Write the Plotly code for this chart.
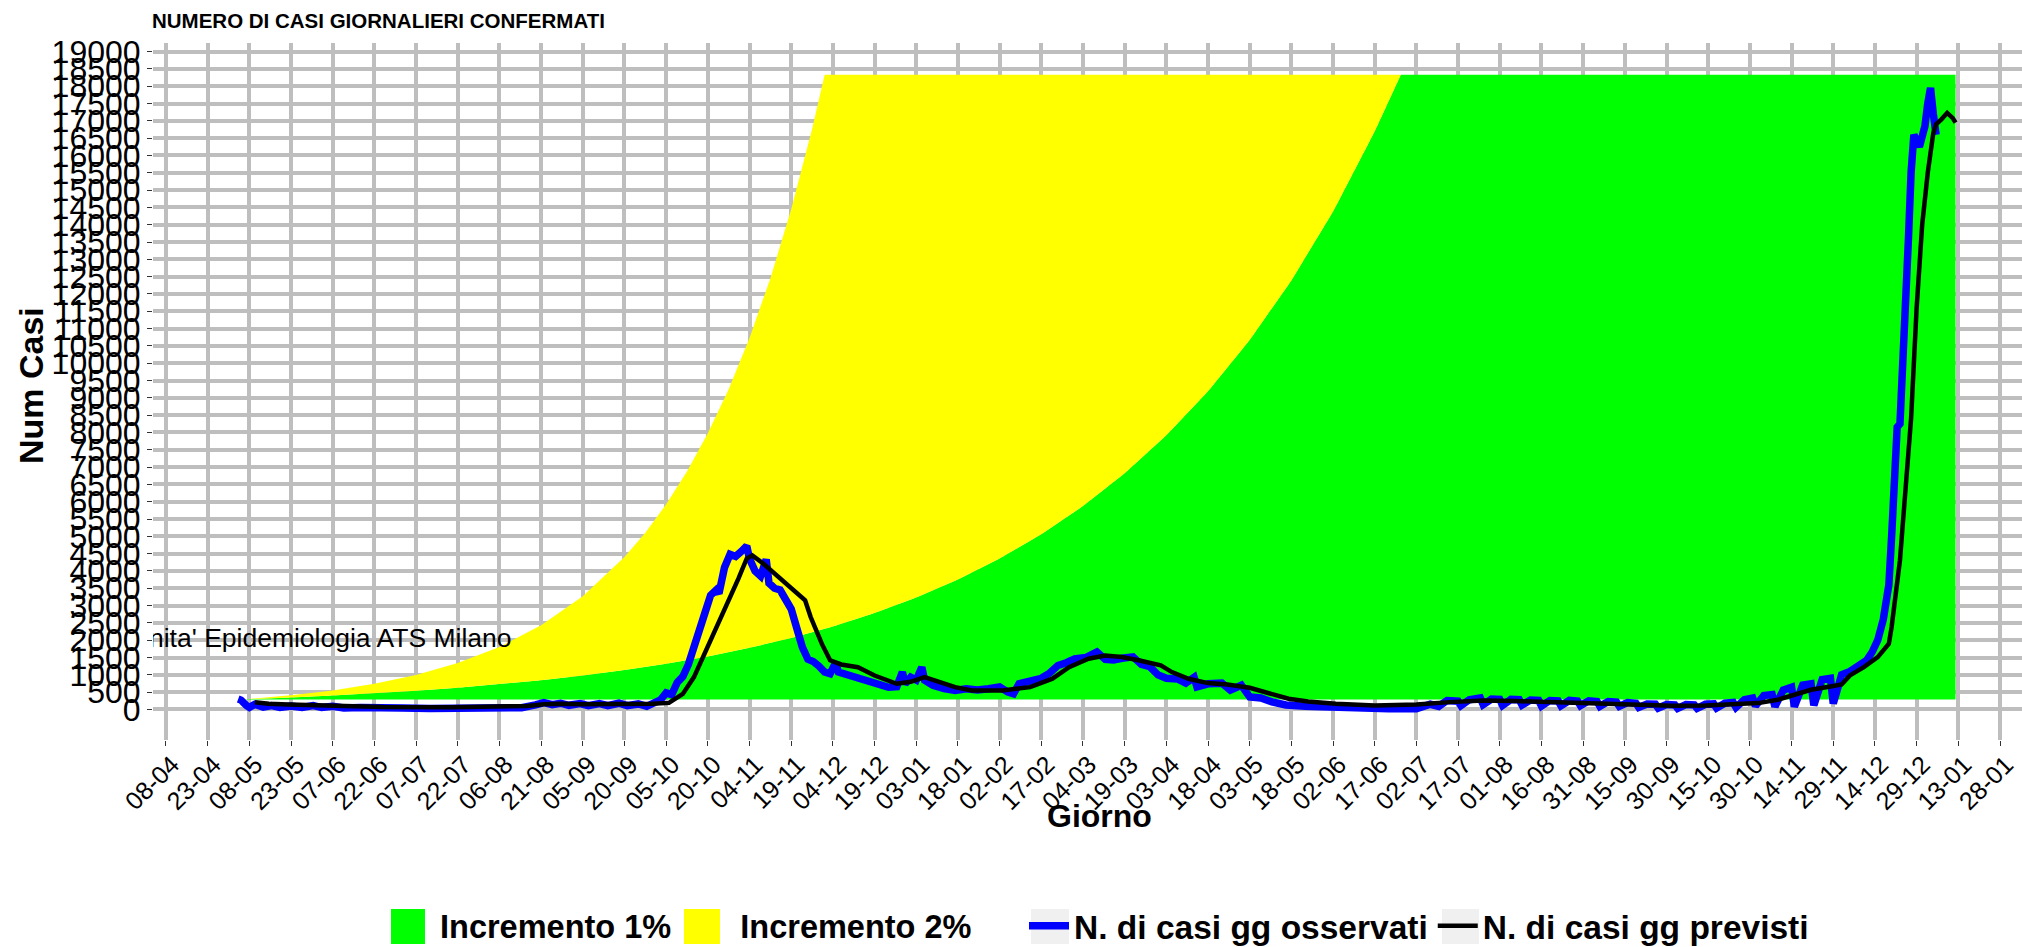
import pandas as pd
import plotly.graph_objects as go

# ---------------- data ----------------
tick_labels = ["08-04", "23-04", "08-05", "23-05", "07-06", "22-06", "07-07", "22-07", "06-08",
               "21-08", "05-09", "20-09", "05-10", "20-10", "04-11", "19-11", "04-12", "19-12",
               "03-01", "18-01", "02-02", "17-02", "04-03", "19-03", "03-04", "18-04", "03-05",
               "18-05", "02-06", "17-06", "02-07", "17-07", "01-08", "16-08", "31-08", "15-09",
               "30-09", "15-10", "30-10", "14-11", "29-11", "14-12", "29-12", "13-01", "28-01"]
tick_dates = pd.date_range("2020-04-08", periods=len(tick_labels), freq="15D")
y_tick_values = [0, 500, 1000, 1500, 2000, 2500, 3000, 3500, 4000, 4500, 5000, 5500, 6000, 6500,
                 7000, 7500, 8000, 8500, 9000, 9500, 10000, 10500, 11000, 11500, 12000, 12500,
                 13000, 13500, 14000, 14500, 15000, 15500, 16000, 16500, 17000, 17500, 18000,
                 18500, 19000]

# ribbons (Incremento 1% / 2%)
ribbon_base_dates = ["2020-05-05", "2022-01-12"]
ribbon_base = [290, 290]

green_dates = ["2020-05-05", "2020-05-08", "2020-05-23", "2020-06-07", "2020-06-22", "2020-07-07",
               "2020-07-22", "2020-08-06", "2020-08-21", "2020-09-05", "2020-09-20", "2020-10-05",
               "2020-10-20", "2020-11-04", "2020-11-19", "2020-12-04", "2020-12-19", "2021-01-03",
               "2021-01-18", "2021-02-02", "2021-02-17", "2021-03-04", "2021-03-19", "2021-04-03",
               "2021-04-18", "2021-05-03", "2021-05-18", "2021-06-02", "2021-06-17",
               "2021-06-26 09:00", "2022-01-12"]
green_top = [290, 297, 345, 400, 465, 539, 626, 727, 844, 980, 1138, 1321,
             1533, 1780, 2066, 2399, 2785, 3234, 3754, 4358, 5060, 5874, 6820, 7918,
             9193, 10672, 12392, 14384, 16698, 18330, 18330]

yellow_dates = ["2020-05-05", "2020-05-08", "2020-05-23", "2020-06-07", "2020-06-22", "2020-07-07",
                "2020-07-22", "2020-08-06", "2020-08-21", "2020-09-05", "2020-09-20",
                "2020-09-27 12:00", "2020-10-05", "2020-10-12 12:00", "2020-10-20",
                "2020-10-27 12:00", "2020-11-04", "2020-11-11 12:00", "2020-11-19",
                "2020-11-26 12:00", "2020-12-01 01:00", "2022-01-12"]
yellow_top = [290, 304, 409, 550, 741, 997, 1342, 1806, 2430, 3271, 4402,
              5107, 5925, 6873, 7974, 9250, 10731, 12449, 14443, 16755, 18330, 18330]

# observed daily cases
obs_dates = [
    "2020-05-04", "2020-05-05", "2020-05-07", "2020-05-08", "2020-05-10", "2020-05-13", "2020-05-16", "2020-05-19", "2020-05-23", "2020-05-27",
    "2020-05-31", "2020-06-03", "2020-06-07", "2020-06-11", "2020-06-17", "2020-06-24", "2020-07-02", "2020-07-12", "2020-07-22", "2020-08-01",
    "2020-08-09", "2020-08-14", "2020-08-19", "2020-08-22", "2020-08-25", "2020-08-28", "2020-08-31", "2020-09-04", "2020-09-07", "2020-09-11",
    "2020-09-14", "2020-09-18", "2020-09-21", "2020-09-25", "2020-09-28", "2020-10-01", "2020-10-03", "2020-10-05", "2020-10-07", "2020-10-09",
    "2020-10-11", "2020-10-13", "2020-10-15", "2020-10-17", "2020-10-19", "2020-10-21", "2020-10-23", "2020-10-24", "2020-10-26", "2020-10-28",
    "2020-10-30", "2020-11-01", "2020-11-03", "2020-11-04", "2020-11-06", "2020-11-08", "2020-11-10", "2020-11-11", "2020-11-13", "2020-11-15",
    "2020-11-17", "2020-11-19", "2020-11-21", "2020-11-23", "2020-11-25", "2020-11-27", "2020-11-29", "2020-12-01", "2020-12-03", "2020-12-05",
    "2020-12-06", "2020-12-09", "2020-12-13", "2020-12-17", "2020-12-21", "2020-12-24", "2020-12-27", "2020-12-29", "2020-12-30", "2021-01-01",
    "2021-01-03", "2021-01-05", "2021-01-06", "2021-01-09", "2021-01-13", "2021-01-17", "2021-01-21", "2021-01-25", "2021-01-29", "2021-02-02",
    "2021-02-05", "2021-02-07", "2021-02-09", "2021-02-13", "2021-02-17", "2021-02-20", "2021-02-23", "2021-02-26", "2021-03-01", "2021-03-05",
    "2021-03-09", "2021-03-12", "2021-03-15", "2021-03-18", "2021-03-22", "2021-03-25", "2021-03-28", "2021-03-31", "2021-04-03", "2021-04-07",
    "2021-04-10", "2021-04-13", "2021-04-14", "2021-04-18", "2021-04-23", "2021-04-26", "2021-04-30", "2021-05-03", "2021-05-07", "2021-05-11",
    "2021-05-16", "2021-05-23", "2021-05-31", "2021-06-10", "2021-06-22", "2021-07-02", "2021-07-07", "2021-07-10", "2021-07-13", "2021-07-17",
    "2021-07-18", "2021-07-21", "2021-07-25", "2021-07-26", "2021-07-29", "2021-08-01", "2021-08-02", "2021-08-05", "2021-08-08", "2021-08-09",
    "2021-08-12", "2021-08-15", "2021-08-16", "2021-08-19", "2021-08-22", "2021-08-23", "2021-08-26", "2021-08-29", "2021-08-30", "2021-09-02",
    "2021-09-05", "2021-09-06", "2021-09-09", "2021-09-12", "2021-09-13", "2021-09-16", "2021-09-19", "2021-09-20", "2021-09-23", "2021-09-26",
    "2021-09-27", "2021-09-30", "2021-10-03", "2021-10-04", "2021-10-07", "2021-10-10", "2021-10-11", "2021-10-14", "2021-10-17", "2021-10-18",
    "2021-10-21", "2021-10-24", "2021-10-25", "2021-10-28", "2021-10-31", "2021-11-01", "2021-11-04", "2021-11-07", "2021-11-08", "2021-11-11",
    "2021-11-14", "2021-11-15", "2021-11-18", "2021-11-21", "2021-11-22", "2021-11-25", "2021-11-28", "2021-11-29", "2021-12-02", "2021-12-05",
    "2021-12-08", "2021-12-11", "2021-12-13", "2021-12-15", "2021-12-17", "2021-12-19", "2021-12-20", "2021-12-21", "2021-12-22", "2021-12-23",
    "2021-12-24", "2021-12-26", "2021-12-27", "2021-12-28", "2021-12-30", "2022-01-01", "2022-01-02", "2022-01-03", "2022-01-04", "2022-01-05"]
obs_cases = [
    300, 270, 110, 60, 150, 70, 110, 60, 100, 55,
    110, 55, 90, 45, 60, 35, 40, 25, 20, 20,
    30, 50, 130, 200, 140, 180, 120, 170, 110, 170,
    110, 180, 110, 160, 90, 200, 280, 480, 430, 780,
    950, 1300, 1750, 2350, 2800, 3300, 3450, 3350, 4100, 4480,
    4420, 4560, 4720, 4350, 4000, 3850, 4330, 3650, 3500, 3450,
    3200, 2900, 2350, 1800, 1450, 1380, 1250, 1080, 1030, 1350,
    1080, 1000, 900, 820, 700, 640, 660, 1080, 740, 930,
    850, 1220, 850, 700, 600, 550, 600, 560, 600, 650,
    500, 450, 740, 820, 900, 1050, 1270, 1350, 1460, 1500,
    1660, 1450, 1430, 1480, 1520, 1300, 1240, 1000, 900, 880,
    760, 930, 650, 740, 760, 560, 700, 360, 330, 220,
    130, 90, 60, 30, 20, 20, 150, 90, 260, 240,
    110, 280, 330, 140, 300, 290, 120, 290, 280, 130,
    270, 260, 100, 260, 250, 110, 260, 240, 110, 250,
    230, 90, 230, 210, 90, 200, 180, 60, 160, 150,
    40, 140, 130, 30, 140, 130, 30, 150, 160, 40,
    180, 200, 60, 280, 330, 100, 400, 430, 80, 560,
    640, 80, 700, 740, 120, 860, 900, 170, 1000, 1100,
    1250, 1420, 1660, 2000, 2600, 3600, 5000, 7000, 8150, 8250,
    10500, 13500, 15500, 16600, 16250, 16850, 17500, 17950, 17200, 16600]

# predicted daily cases
pred_dates = [
    "2020-05-10", "2020-05-15", "2020-05-22", "2020-06-01", "2020-06-13", "2020-06-25", "2020-07-20", "2020-08-09", "2020-08-16", "2020-08-22",
    "2020-08-28", "2020-09-05", "2020-09-18", "2020-09-30", "2020-10-06", "2020-10-08", "2020-10-11", "2020-10-15", "2020-10-20", "2020-10-26",
    "2020-10-31", "2020-11-03", "2020-11-05", "2020-11-09", "2020-11-13", "2020-11-16", "2020-11-20", "2020-11-24", "2020-11-26", "2020-11-30",
    "2020-12-03", "2020-12-07", "2020-12-13", "2020-12-19", "2020-12-27", "2021-01-01", "2021-01-06", "2021-01-10", "2021-01-17", "2021-01-23",
    "2021-02-03", "2021-02-13", "2021-02-21", "2021-02-27", "2021-03-06", "2021-03-12", "2021-03-18", "2021-03-24", "2021-03-28", "2021-04-01",
    "2021-04-05", "2021-04-11", "2021-04-18", "2021-04-25", "2021-05-03", "2021-05-10", "2021-05-17", "2021-05-24", "2021-06-03", "2021-06-17",
    "2021-07-02", "2021-07-14", "2021-07-26", "2021-08-07", "2021-08-19", "2021-08-31", "2021-09-12", "2021-09-22", "2021-10-02", "2021-10-14",
    "2021-10-26", "2021-11-02", "2021-11-09", "2021-11-16", "2021-11-21", "2021-11-28", "2021-12-02", "2021-12-05", "2021-12-10", "2021-12-15",
    "2021-12-19", "2021-12-20", "2021-12-22", "2021-12-23", "2021-12-27", "2021-12-29", "2021-12-31", "2022-01-02", "2022-01-04", "2022-01-05",
    "2022-01-07", "2022-01-09", "2022-01-11", "2022-01-12"]
pred_cases = [
    210, 165, 140, 110, 88, 70, 67, 80, 100, 150,
    165, 150, 145, 165, 190, 290, 450, 935, 1800, 2860,
    3780, 4360, 4450, 4210, 3920, 3730, 3440, 3150, 2670, 1900,
    1420, 1300, 1220, 980, 742, 800, 935, 830, 645, 550,
    550, 645, 890, 1220, 1465, 1560, 1515, 1420, 1360, 1272,
    1080, 887, 762, 723, 627, 453, 309, 231, 164, 116,
    145, 212, 260, 241, 212, 205, 175, 140, 110, 116,
    144, 183, 279, 453, 569, 665, 723, 983, 1224, 1513,
    1899, 2381, 3600, 4309, 8400, 11600, 14000, 15500, 16650, 16900,
    17050, 17230, 17080, 16950]

source_text = "Unita' Epidemiologia ATS Milano"

# ---------------- figure ----------------
W, H = 2022, 947
L, R, T, B = 153, 0, 43, 207
PW, PH = W - L - R, H - T - B

def px_x(px):
    return (px - L) / PW

def px_y(py):
    return (H - B - py) / PH

FONT = "Liberation Sans, Arial, sans-serif"

fig = go.Figure()

fig.add_trace(go.Scatter(x=ribbon_base_dates, y=ribbon_base, mode="lines", line=dict(width=0),
                         showlegend=False, hoverinfo="skip"))
fig.add_trace(go.Scatter(x=green_dates, y=green_top, mode="lines", line=dict(width=0),
                         fill="tonexty", fillcolor="#00FF00", showlegend=False, hoverinfo="skip"))
fig.add_trace(go.Scatter(x=yellow_dates, y=yellow_top, mode="lines", line=dict(width=0),
                         fill="tonexty", fillcolor="#FFFF00", showlegend=False, hoverinfo="skip"))

fig.add_trace(go.Scatter(x=["2020-03-26"], y=[2000], mode="text", text=[source_text],
                         textposition="middle right", cliponaxis=True,
                         textfont=dict(family=FONT, size=26.5, color="black"),
                         showlegend=False, hoverinfo="skip"))

fig.add_trace(go.Scatter(x=obs_dates, y=obs_cases, mode="lines",
                         line=dict(color="#0000FF", width=7.5),
                         name="N. di casi gg osservati", legend="legend2"))
fig.add_trace(go.Scatter(x=pred_dates, y=pred_cases, mode="lines",
                         line=dict(color="#000000", width=4.5),
                         name="N. di casi gg previsti", legend="legend2"))

# legend keys for the two ribbons
fig.add_trace(go.Scatter(x=[None], y=[None], mode="markers",
                         marker=dict(symbol="square", size=16, color="#00FF00",
                                     line=dict(color="#00FF00", width=5)),
                         name="Incremento 1%", legend="legend"))
fig.add_trace(go.Scatter(x=[None], y=[None], mode="markers",
                         marker=dict(symbol="square", size=16, color="#FFFF00",
                                     line=dict(color="#FFFF00", width=5)),
                         name="Incremento 2%", legend="legend"))

grid = dict(showgrid=True, gridcolor="#BEBEBE", gridwidth=3.5, zeroline=False, showline=False,
            ticks="outside", ticklen=5, tickwidth=1, tickcolor="#333333")


def key_box(x0, x1, color):
    # ggplot-style legend key background (sized like the reference's keys)
    return dict(type="rect", xref="paper", yref="paper",
                x0=px_x(x0), x1=px_x(x1), y0=px_y(944), y1=px_y(909),
                fillcolor=color, line=dict(width=0), layer="above")


fig.update_layout(
    width=W, height=H,
    margin=dict(l=L, r=R, t=T, b=B, pad=0, autoexpand=False),
    paper_bgcolor="white", plot_bgcolor="white",
    font=dict(family=FONT, color="black"),
    title=dict(text="NUMERO DI CASI GIORNALIERI CONFERMATI",
               font=dict(family=FONT, size=20.5, weight="bold", color="black"),
               xref="container", yref="container", x=152 / W, xanchor="left",
               y=1 - 21 / H, yanchor="middle"),
    xaxis=dict(type="date", range=["2020-04-03 08:00", "2022-02-04 22:00"],
               tickmode="array", tickvals=list(tick_dates), ticktext=tick_labels,
               tickangle=-45, tickfont=dict(family=FONT, size=25, color="black"),
               ticklabelshift=6, ticklabelstandoff=-6, ticklabeloverflow="allow",
               automargin=False, **grid),
    yaxis=dict(range=[-882, 19248], tickmode="array", tickvals=y_tick_values,
               ticktext=[str(v) for v in y_tick_values],
               tickfont=dict(family=FONT, size=32, color="black"),
               automargin=False, **grid),
    legend=dict(orientation="h", xref="paper", yref="paper", traceorder="normal",
                x=px_x(376), xanchor="left", y=px_y(926), yanchor="middle",
                itemwidth=54, bgcolor="rgba(0,0,0,0)",
                font=dict(family=FONT, size=32.5, weight="bold", color="black")),
    legend2=dict(orientation="h", xref="paper", yref="paper", traceorder="normal",
                 x=px_x(1024), xanchor="left", y=px_y(926), yanchor="middle",
                 itemwidth=40, bgcolor="rgba(0,0,0,0)",
                 font=dict(family=FONT, size=33.5, weight="bold", color="black")),
    shapes=[
        key_box(391, 425, "#00FF00"),
        key_box(684, 720, "#FFFF00"),
        key_box(1031, 1069, "#F0F0F0"),
        key_box(1442, 1479, "#F0F0F0"),
    ],
    annotations=[
        dict(text="<b>Num Casi</b>", xref="paper", yref="paper", x=px_x(31), y=px_y(385),
             textangle=-90, showarrow=False, xanchor="center", yanchor="middle",
             font=dict(family=FONT, size=34, color="black")),
        dict(text="<b>Giorno</b>", xref="paper", yref="paper", x=px_x(1099), y=px_y(816),
             showarrow=False, xanchor="center", yanchor="middle",
             font=dict(family=FONT, size=32, color="black")),
    ],
)

fig.write_html("out.html", config={"displayModeBar": False},
               post_script="document.body.style.margin='0px';document.body.style.overflow='hidden';")
